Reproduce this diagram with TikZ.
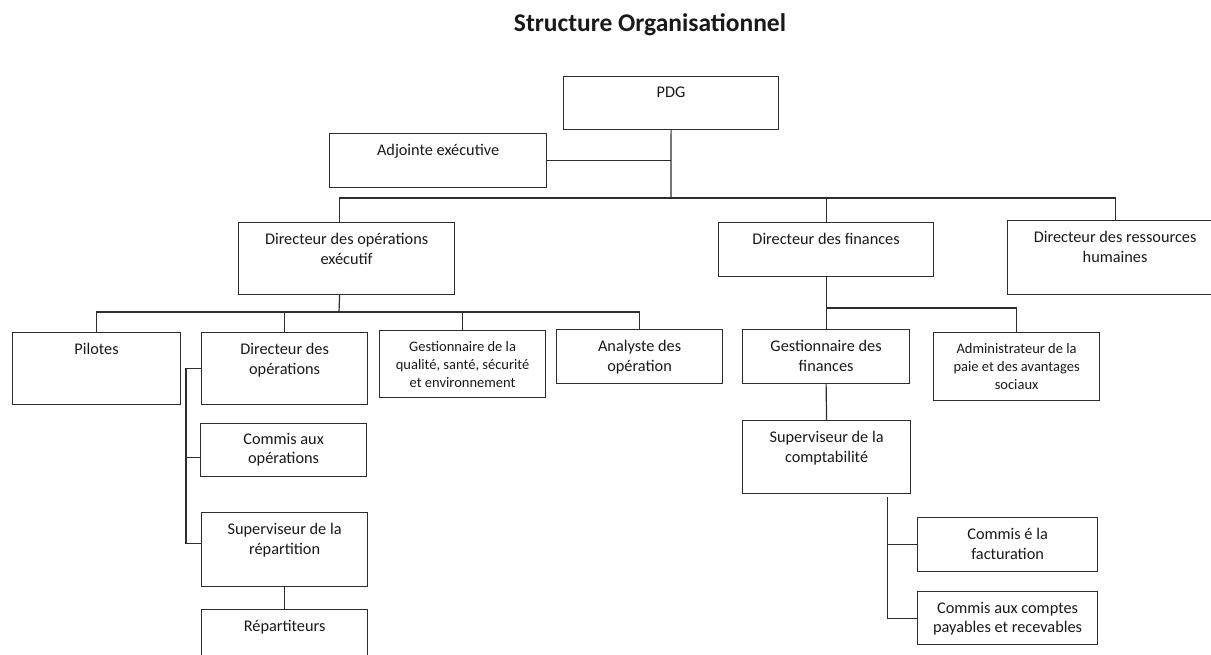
\documentclass[tikz,border=0pt]{standalone}
\usepackage{fontspec}
\setmainfont{Carlito}
\usetikzlibrary{positioning}
\definecolor{orgLine}{RGB}{45,45,45}
\definecolor{orgText}{RGB}{25,25,25}

\begin{document}
\begin{tikzpicture}[x=1pt, y=-1pt,
  box/.style={draw=orgLine, line width=1.2pt, anchor=north west, inner sep=0pt},
  lbl/.style={text=orgText, align=center, inner sep=0pt,
              font=\fontsize{16.3}{19.5}\selectfont},
  small/.style={lbl, font=\fontsize{14.5}{18}\selectfont},
  link/.style={draw=orgLine, line width=1.2pt}
]
  \useasboundingbox (0,0) rectangle (1211,655);
  \clip (0,0) rectangle (1211,655);

  \node[anchor=base, text=orgText, font=\bfseries\fontsize{25.5}{30}\selectfont]
    (title) at (650,32) {Structure Organisationnel};

  % top level
  \node[box, minimum width=215pt, minimum height=53pt] (pdg) at (563,76) {};
  \node[lbl, below=11pt of pdg.north] (pdgT) {PDG};
  \node[box, minimum width=217pt, minimum height=54pt] (adj) at (329,133) {};
  \node[lbl, below=11pt of adj.north] (adjT) {Adjointe exécutive};

  \node[box, minimum width=216pt, minimum height=72pt] (doe) at (238,222) {};
  \node[lbl, below=11pt of doe.north] (doeT) {Directeur des opérations\\exécutif};
  \node[box, minimum width=215pt, minimum height=54pt] (df) at (718,222) {};
  \node[lbl, below=11pt of df.north] (dfT) {Directeur des finances};
  \node[box, minimum width=215pt, minimum height=74pt] (drh) at (1007,220) {};
  \node[lbl, below=11pt of drh.north] (drhT) {Directeur des ressources\\humaines};

  % operations
  \node[box, minimum width=168pt, minimum height=72pt] (pil) at (12,332) {};
  \node[lbl, below=11pt of pil.north] (pilT) {Pilotes};
  \node[box, minimum width=166pt, minimum height=72pt] (dop) at (201,332) {};
  \node[lbl, below=11pt of dop.north] (dopT) {Directeur des\\opérations};
  \node[box, minimum width=166pt, minimum height=67pt] (qsse) at (379,330) {};
  \node[small, below=11pt of qsse.north] (qsseT) {Gestionnaire de la\\qualité, santé, sécurité\\et environnement};
  \node[box, minimum width=166pt, minimum height=54pt] (ana) at (556,329) {};
  \node[lbl, below=11pt of ana.north] (anaT) {Analyste des\\opération};

  \node[box, minimum width=166pt, minimum height=53pt] (com) at (200,423) {};
  \node[lbl, below=10pt of com.north] (comT) {Commis aux\\opérations};
  \node[box, minimum width=166pt, minimum height=74pt] (sup) at (201,512) {};
  \node[lbl, below=11pt of sup.north] (supT) {Superviseur de la\\répartition};
  \node[box, minimum width=166pt, minimum height=60pt] (rep) at (201,609) {};
  \node[lbl, below=11pt of rep.north] (repT) {Répartiteurs};

  % finances
  \node[box, minimum width=167pt, minimum height=54pt] (gf) at (742,329) {};
  \node[lbl, below=11pt of gf.north] (gfT) {Gestionnaire des\\finances};
  \node[box, minimum width=166pt, minimum height=68pt] (adm) at (933,332) {};
  \node[small, below=11pt of adm.north] (admT) {Administrateur de la\\paie et des avantages\\sociaux};
  \node[box, minimum width=168pt, minimum height=73pt] (sc) at (742,420) {};
  \node[lbl, below=11pt of sc.north] (scT) {Superviseur de la\\comptabilité};
  \node[box, minimum width=180pt, minimum height=54pt] (fac) at (917,517) {};
  \node[lbl, below=11pt of fac.north] (facT) {Commis é la\\facturation};
  \node[box, minimum width=180pt, minimum height=53pt] (cpt) at (917,591) {};
  \node[lbl, below=11pt of cpt.north] (cptT) {Commis aux comptes\\payables et recevables};

  % links
  \coordinate (top) at (671,198);
  \draw[link] (pdg.south) -- (top);
  \draw[link] (adj.east) -- (adj.east -| pdg.south);
  \draw[link] ([xshift=-7pt]doe.north) |- (drh.north |- top) -- (drh.north);
  \draw[link] (df.north) -- (df.north |- top);

  \coordinate (ops) at (339,312);
  \draw[link] ([xshift=-7pt]doe.south) -- (ops);
  \draw[link] (pil.north) |- (ana.north |- ops) -- (ana.north);
  \draw[link] (dop.north) -- (dop.north |- ops);
  \draw[link] (qsse.north) -- (qsse.north |- ops);

  \coordinate (rail) at (186,368);
  \draw[link] (dop.west) -| ([yshift=6pt]sup.west -| rail) -- ([yshift=6pt]sup.west);
  \draw[link] ([yshift=-7pt]com.west) -- ([yshift=-7pt]com.west -| rail);
  \draw[link] (sup.south) -- (rep.north);

  \coordinate (fin) at (826,308);
  \draw[link] (df.south) -- (gf.north);
  \draw[link] (df.south |- fin) -| (adm.north);
  \draw[link] (gf.south) -- (sc.north);
  \coordinate (acc) at ([xshift=61pt,yshift=-3pt]sc.south);
  \draw[link] (acc) |- (cpt.west);
  \draw[link] (fac.west) -- (fac.west -| acc);
\end{tikzpicture}
\end{document}
